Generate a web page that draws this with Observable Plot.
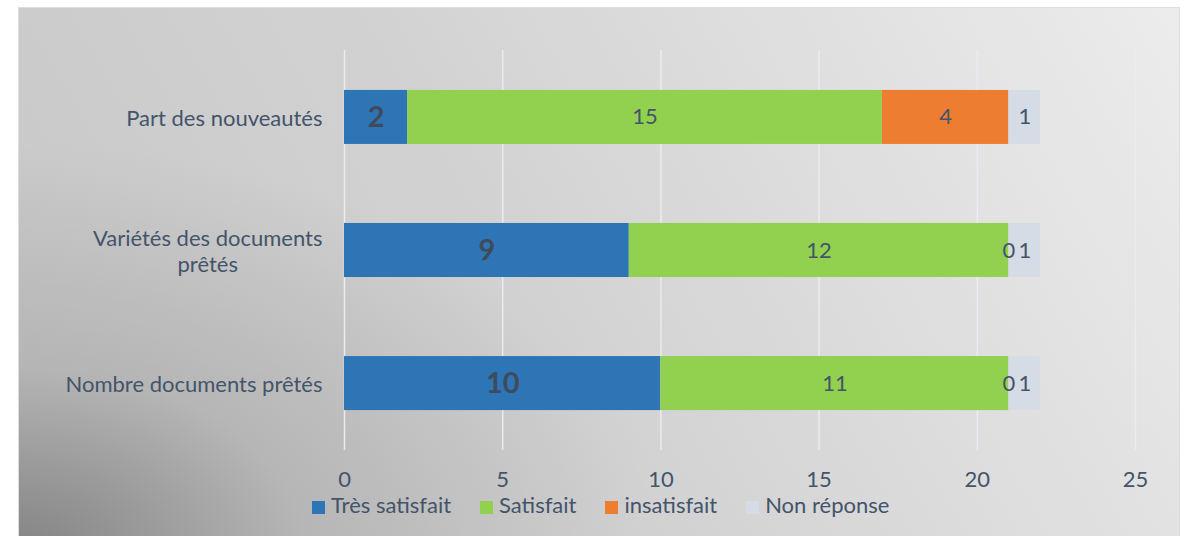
<!DOCTYPE html>
<html><head><meta charset="utf-8">
<script src="https://cdn.jsdelivr.net/npm/d3@7"></script>
<script src="https://cdn.jsdelivr.net/npm/@observablehq/plot@0.6"></script>
<style>
html,body{margin:0;padding:0;background:#fff;width:1187px;height:536px;overflow:hidden;font-family:Lato,sans-serif;}
#panel{position:absolute;left:18px;top:7px;width:1162px;height:545px;border:1px solid #d9dee6;box-sizing:border-box;
background:
 radial-gradient(ellipse 55% 75% at 0% 100%, rgba(128,128,128,0.95) 0%, rgba(165,165,165,0.55) 45%, rgba(200,200,200,0) 100%),
 linear-gradient(60deg, #c6c6c6 0%, #d2d2d2 45%, #ececec 100%);}
#chart{position:absolute;left:0;top:0;}
#legend{position:absolute;left:312px;top:492px;display:flex;align-items:center;font-size:22px;line-height:1.2;color:#44546a;white-space:nowrap;}
#legend .item{display:flex;align-items:center;margin-right:29px;}
#legend .sw{width:13px;height:13px;margin-right:6px;position:relative;top:2px;}
</style></head>
<body>
<div id="panel"></div>
<div id="chart"></div>
<div id="legend"></div>
<script>
const categories = ["Part des nouveautés", "Variétés des documents prêtés", "Nombre documents prêtés"];
const yLabels = ["Part des nouveautés", "Variétés des documents\nprêtés", "Nombre documents prêtés"];
const series = ["Très satisfait", "Satisfait", "insatisfait", "Non réponse"];
const colors = ["#2e75b6", "#92d050", "#ed7d31", "#d6dce5"];
const tresSatisfait = [2, 9, 10];
const satisfait = [15, 12, 11];
const insatisfait = [4, 0, 0];
const nonReponse = [1, 1, 1];
const xTicks = [0, 5, 10, 15, 20, 25];

const seriesValues = [tresSatisfait, satisfait, insatisfait, nonReponse];
const data = series.flatMap((s, si) => categories.map((c, ci) => ({cat: c, series: s, value: seriesValues[si][ci]})));

const chart = Plot.plot({
  width: 1187, height: 495,
  marginLeft: 344, marginRight: 52, marginTop: 50, marginBottom: 45,
  style: {background: "transparent", fontFamily: "Lato, sans-serif", color: "#44546a", overflow: "visible"},
  x: {domain: [0, 25], ticks: xTicks},
  y: {domain: categories, paddingInner: 0.594, paddingOuter: 0.3, round: false},
  color: {domain: series, range: colors},
  marks: [
    Plot.ruleX(xTicks, {stroke: "#e9ecf0", strokeWidth: 1.5}),
    Plot.barX(data, Plot.stackX({x: "value", y: "cat", fill: "series", order: series})),
    Plot.text(data, Plot.stackX({x: "value", y: "cat", z: "series", order: series,
      text: d => d.series === series[0] ? String(d.value) : null,
      fontSize: 29, fontWeight: "bold", fill: "#3f4a5c"})),
    Plot.text(data, Plot.stackX({x: "value", y: "cat", z: "series", order: series,
      text: d => d.series !== series[0] ? String(d.value) : null,
      fontSize: 22, fill: "#44546a"})),
    Plot.axisX({ticks: xTicks, tickSize: 0, tickPadding: 21, fontSize: 22, label: null}),
    Plot.axisY({tickSize: 0, tickPadding: 22, fontSize: 22, label: null, lineHeight: 1.2,
      tickFormat: d => yLabels[categories.indexOf(d)]})
  ]
});
document.getElementById("chart").appendChild(chart);

// center multi-line y tick labels within their right-aligned block
chart.querySelectorAll("text").forEach(t => {
  const spans = t.querySelectorAll("tspan");
  if (spans.length > 1) {
    const bb = t.getBBox();
    const cx = bb.x + bb.width / 2;
    t.setAttribute("text-anchor", "middle");
    spans.forEach(s => s.setAttribute("x", cx));
  }
});

const legend = document.getElementById("legend");
series.forEach((s, i) => {
  const item = document.createElement("div");
  item.className = "item";
  const sw = document.createElement("div");
  sw.className = "sw";
  sw.style.background = colors[i];
  const lab = document.createElement("span");
  lab.textContent = s;
  item.appendChild(sw); item.appendChild(lab);
  legend.appendChild(item);
});
</script>
</body></html>
